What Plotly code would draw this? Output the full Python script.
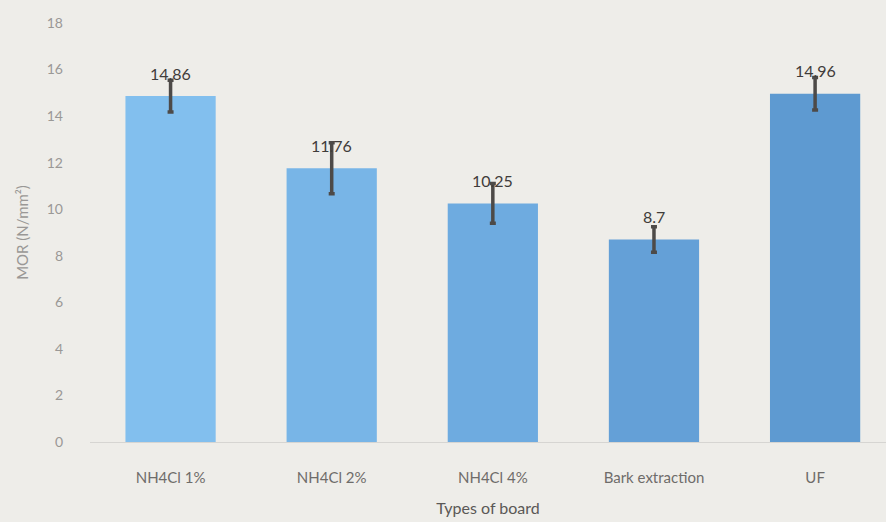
import plotly.graph_objects as go

categories = ["NH4Cl 1%", "NH4Cl 2%", "NH4Cl 4%", "Bark extraction", "UF"]
mor_values = [14.86, 11.76, 10.25, 8.7, 14.96]
mor_errors = [0.68, 1.1, 0.85, 0.55, 0.7]
value_labels = ["14.86", "11.76", "10.25", "8.7", "14.96"]
y_ticks = [0, 2, 4, 6, 8, 10, 12, 14, 16, 18]

bar_colors = ["#82bfee", "#78b5e7", "#6eabe0", "#64a0d7", "#5e9ad1"]

fig = go.Figure()
fig.add_trace(go.Bar(
    x=categories, y=mor_values,
    marker=dict(color=bar_colors, line=dict(width=0)),
    error_y=dict(type="data", array=mor_errors, visible=True,
                 color="#4d4a48", thickness=3.5, width=3),
    showlegend=False,
))

for c, v, t in zip(categories, mor_values, value_labels):
    fig.add_annotation(x=c, y=v, text=t, showarrow=False, yanchor="middle",
                       yshift=23, font=dict(family="Lato", size=16, color="#3f3c3a"))

fig.update_layout(
    width=886, height=522,
    margin=dict(l=90, r=0, t=23, b=80),
    paper_bgcolor="#eeede9", plot_bgcolor="#eeede9",
    bargap=0.44,
    font=dict(family="Lato", color="#8a8886"),
    xaxis=dict(range=[-0.5, 4.44], showgrid=False, showline=True,
               linecolor="#d6d5d2", linewidth=1, ticks="",
               tickfont=dict(size=15, color="#6e6c6a"), ticklabelstandoff=22,
               title=dict(text="Types of board", font=dict(size=16, color="#5a5856"),
                          standoff=17)),
    yaxis=dict(range=[0, 18], tickvals=y_ticks, showgrid=False, zeroline=False,
               showline=False, ticks="",
               tickfont=dict(size=14, color="#9a9896"), ticklabelstandoff=26,
               title=dict(text="MOR (N/mm²)", font=dict(size=15, color="#9a9896"),
                          standoff=14)),
)

fig.write_html("out.html")
